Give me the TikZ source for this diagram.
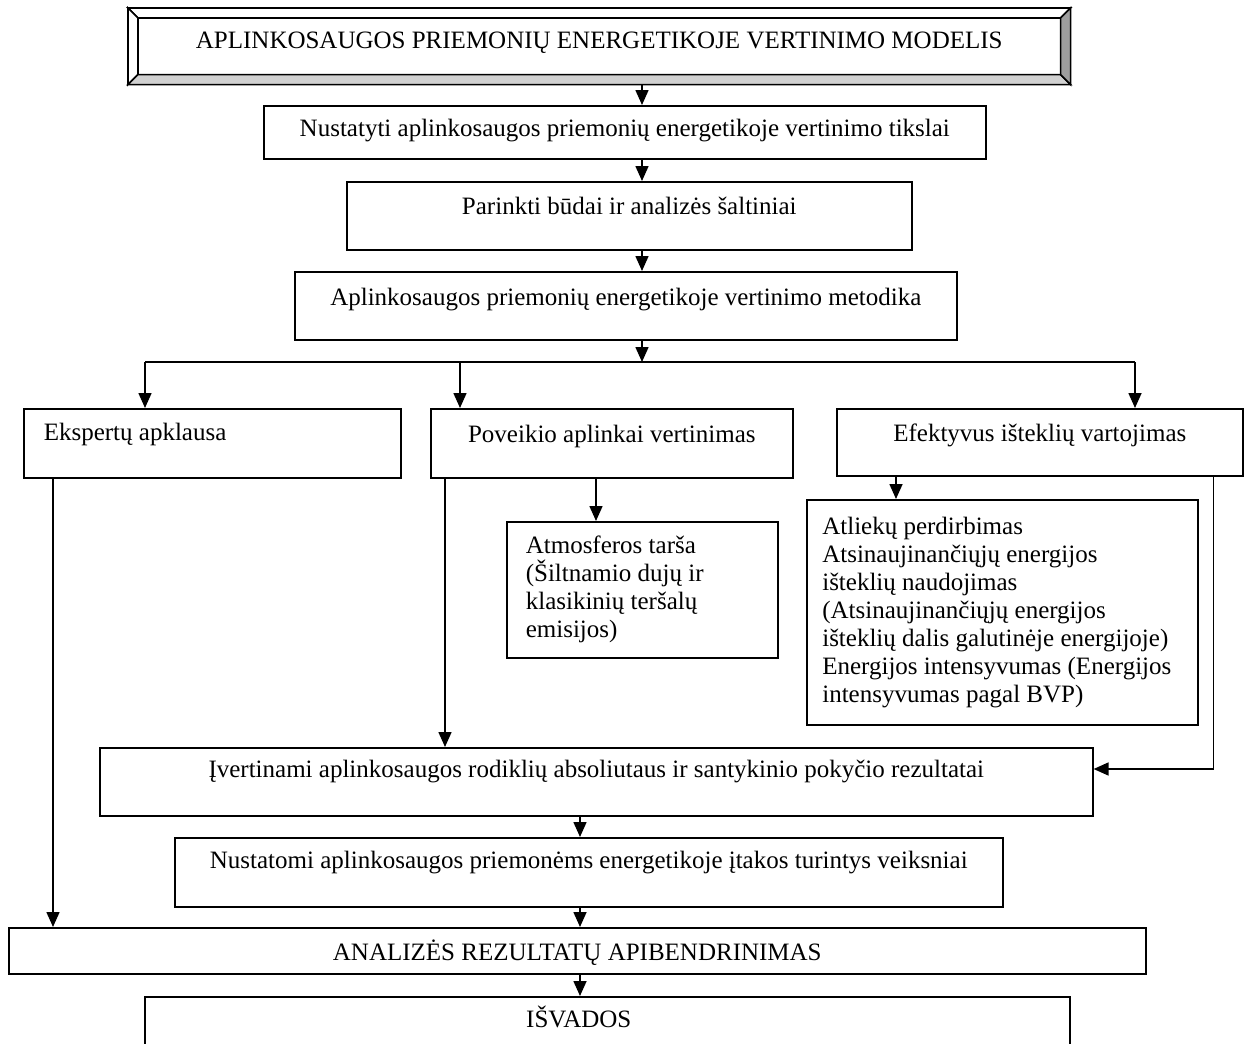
\documentclass[tikz,border=0pt]{standalone}
\usepackage{fontspec}
\setmainfont{Liberation Serif}
\usetikzlibrary{arrows.meta}

\tikzset{
  blokas/.style={draw, line width=0.8pt, inner sep=0pt, anchor=north west,
    font=\fontsize{12.5}{14}\selectfont},
  strela/.style={line width=0.8pt, -{Triangle[length=7.5pt,width=6.5pt]}},
  linija/.style={line width=0.8pt}
}

\begin{document}
\begin{tikzpicture}[x=0.5pt,y=-0.5pt]
\useasboundingbox (0,0) rectangle (1244,1044);
\node[blokas, minimum width=470.5pt, text height=20pt, text depth=17.5pt] (modelis) at (128,8) {APLINKOSAUGOS PRIEMONIŲ ENERGETIKOJE VERTINIMO MODELIS};
\draw[linija, fill=white] (modelis.north west) -- (modelis.north east) -- ([shift={(-5pt,-5pt)}]modelis.north east) -- ([shift={(5pt,-5pt)}]modelis.north west) -- cycle;
\draw[linija, fill=white] (modelis.north west) -- ([shift={(5pt,-5pt)}]modelis.north west) -- ([shift={(5pt,5pt)}]modelis.south west) -- (modelis.south west) -- cycle;
\draw[linija, fill=black!18] (modelis.south west) -- ([shift={(5pt,5pt)}]modelis.south west) -- ([shift={(-5pt,5pt)}]modelis.south east) -- (modelis.south east) -- cycle;
\draw[linija, fill=black!38] (modelis.north east) -- (modelis.south east) -- ([shift={(-5pt,5pt)}]modelis.south east) -- ([shift={(-5pt,-5pt)}]modelis.north east) -- cycle;

\node[blokas, minimum width=361pt, text height=15.5pt, text depth=11pt] (tikslai) at (263,105) {Nustatyti aplinkosaugos priemonių energetikoje vertinimo tikslai};
\node[blokas, minimum width=282.5pt, text height=16.5pt, text depth=17.5pt] (budai) at (346,181) {Parinkti būdai ir analizės šaltiniai};
\node[blokas, minimum width=331pt, text height=17pt, text depth=17pt] (metodika) at (294,271) {Aplinkosaugos priemonių energetikoje vertinimo metodika};

\node[blokas, inner xsep=10pt, text width=168.5pt, align=flush left, text height=16pt, text depth=18.5pt] (ekspertai) at (23,408) {Ekspertų apklausa};
\node[blokas, minimum width=181pt, text height=17pt, text depth=17.5pt] (poveikis) at (430,408) {Poveikio aplinkai vertinimas};
\node[blokas, minimum width=203pt, text height=16.5pt, text depth=17pt] (efektyvus) at (836,408) {Efektyvus išteklių vartojimas};

\node[blokas, inner xsep=9.5pt, text width=116.5pt, align=flush left, minimum height=68pt] (atmosfera) at (506,521) {Atmosferos tarša\\(Šiltnamio dujų ir\\klasikinių teršalų\\emisijos)};
\node[blokas, inner xsep=7.75pt, text width=180pt, align=flush left, minimum height=112.5pt] (didysis) at (806,499) {Atliekų perdirbimas\\Atsinaujinančiųjų energijos\\išteklių naudojimas\\(Atsinaujinančiųjų energijos\\išteklių dalis galutinėje energijoje)\\Energijos intensyvumas (Energijos\\intensyvumas pagal BVP)};

\node[blokas, minimum width=496.5pt, text height=15pt, text depth=19pt] (ivertinami) at (99,747) {Įvertinami aplinkosaugos rodiklių absoliutaus ir santykinio pokyčio rezultatai};
\node[blokas, minimum width=414pt, text height=15.5pt, text depth=19pt] (nustatomi) at (174,837) {Nustatomi aplinkosaugos priemonėms energetikoje įtakos turintys veiksniai};
\node[blokas, minimum width=568.5pt, text height=16.5pt, text depth=6.5pt] (analize) at (8,927) {ANALIZĖS REZULTATŲ APIBENDRINIMAS};
\node[blokas, text width=462.5pt, align=flush left, text height=15.5pt, text depth=18.5pt] (isvados) at (144,996) {\hspace*{217pt}\makebox[0pt]{IŠVADOS}};

\coordinate (asis1) at (642,0);
\coordinate (asis2) at (580,0);
\draw[strela] (asis1 |- modelis.south) -- (asis1 |- tikslai.north);
\draw[strela] (asis1 |- tikslai.south) -- (asis1 |- budai.north);
\draw[strela] (asis1 |- budai.south) -- (asis1 |- metodika.north);

\coordinate (sk1) at (145,362);
\coordinate (sk2) at (460,362);
\coordinate (sk3) at (1135,362);
\draw[strela] (asis1 |- metodika.south) -- (asis1 |- sk1);
\draw[linija] (sk1) -- (sk3);
\draw[strela] (sk1) -- (sk1 |- ekspertai.north);
\draw[strela] (sk2) -- (sk2 |- poveikis.north);
\draw[strela] (sk3) -- (sk3 |- efektyvus.north);

\coordinate (e1) at ([xshift=15pt]ekspertai.south west);
\coordinate (p1) at ([xshift=7.5pt]poveikis.south west);
\coordinate (p2) at ([xshift=45pt]atmosfera.north west);
\coordinate (f1) at ([xshift=45pt]didysis.north west);
\coordinate (f2) at ([xshift=-15pt]efektyvus.south east);
\draw[strela] (e1) -- (e1 |- analize.north);
\draw[strela] (p1) -- (p1 |- ivertinami.north);
\draw[strela] (p2 |- poveikis.south) -- (p2);
\draw[strela] (f1 |- efektyvus.south) -- (f1);
\draw[strela] (f2) |- ([yshift=-11pt]ivertinami.north east);

\draw[strela] (asis2 |- ivertinami.south) -- (asis2 |- nustatomi.north);
\draw[strela] (asis2 |- nustatomi.south) -- (asis2 |- analize.north);
\draw[strela] (asis2 |- analize.south) -- (asis2 |- isvados.north);
\end{tikzpicture}
\end{document}
